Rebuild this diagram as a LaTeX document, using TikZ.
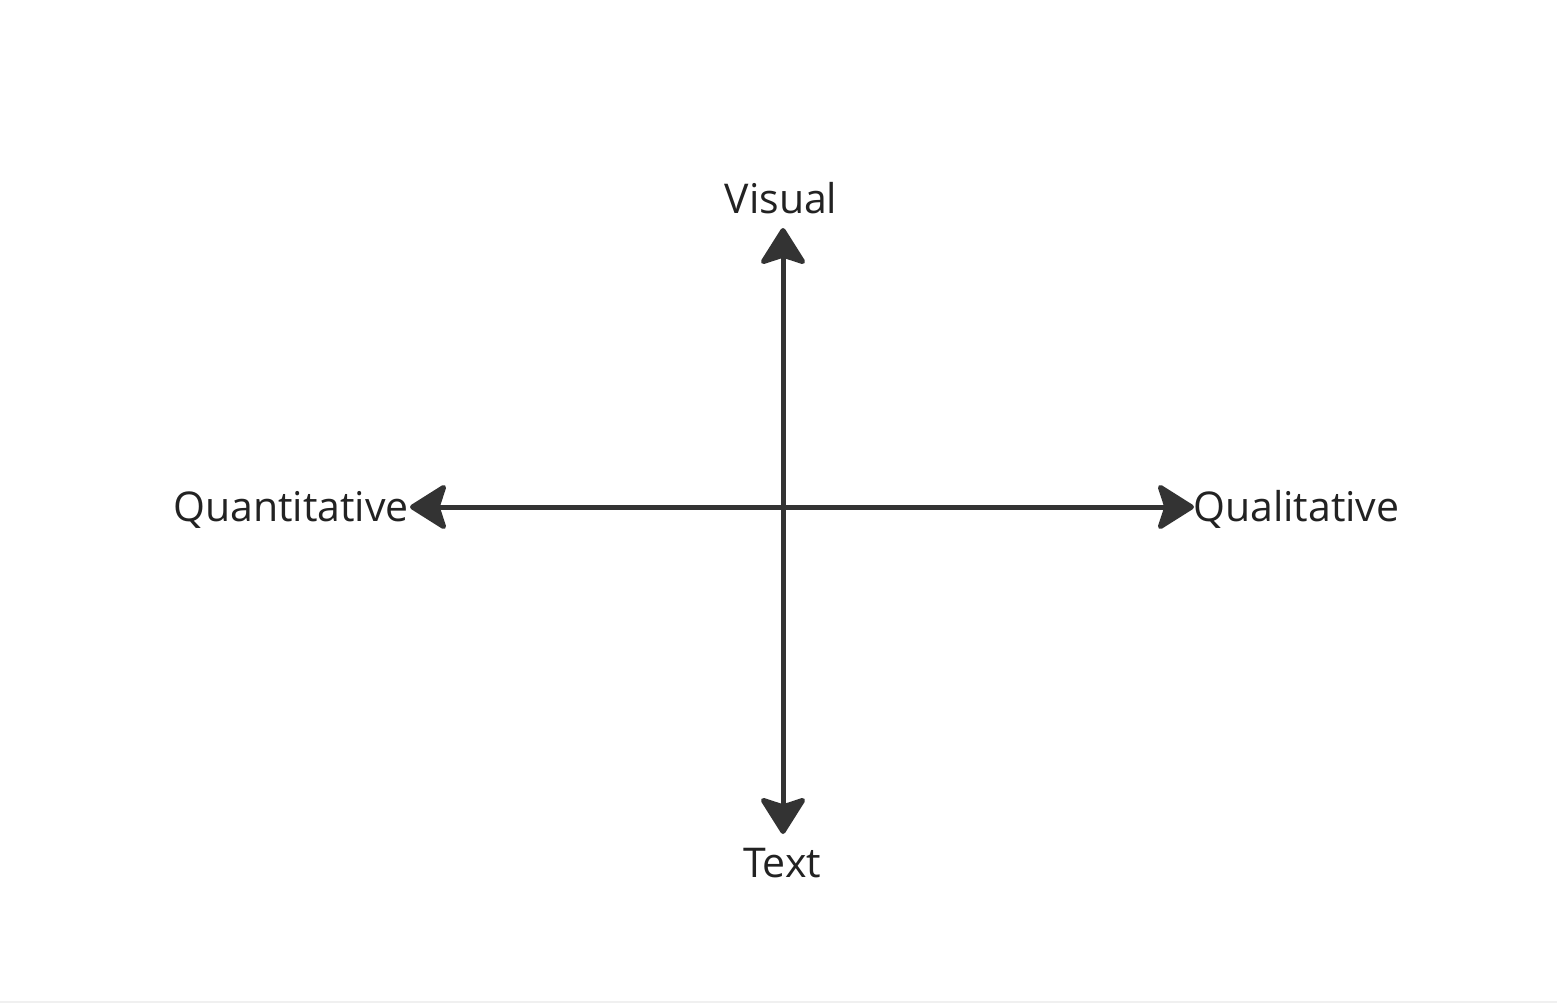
\documentclass[tikz,border=0pt]{standalone}
\usepackage{fontspec}
\setmainfont{Open Sans}
\usetikzlibrary{arrows.meta}
\definecolor{axisgray}{HTML}{333333}
\definecolor{textgray}{HTML}{222222}
\definecolor{edgegray}{HTML}{F0F0F0}
\begin{document}
\begin{tikzpicture}[x=1pt,y=-1pt,
  axisline/.style={draw=axisgray, line width=5pt,
    arrows={Stealth[length=40pt,width=50pt,inset=8pt,round]-Stealth[length=40pt,width=50pt,inset=8pt,round]}},
  axlabel/.style={font=\fontsize{41}{49}\selectfont, text=textgray, inner sep=0pt}]
\useasboundingbox[fill=white] (0,0) rectangle (1557,1003);
\draw[edgegray, line width=2pt] (0,1002) -- (1557,1002);
\coordinate (top) at (783,228);
\coordinate (bottom) at (783,834);
\coordinate (left) at (410,507);
\coordinate (right) at (1194,507);
\draw[axisline] (top) -- (bottom);
\draw[axisline] (left) -- (right);
\node[axlabel, anchor=base] (visual) at (781,214) {Visual};
\node[axlabel, anchor=base] (text) at (782,877) {Text};
\node[axlabel, anchor=base east] (quant) at (409,521) {Quantitative};
\node[axlabel, anchor=base west] (qual) at (1193,521) {Qualitative};
\end{tikzpicture}
\end{document}
